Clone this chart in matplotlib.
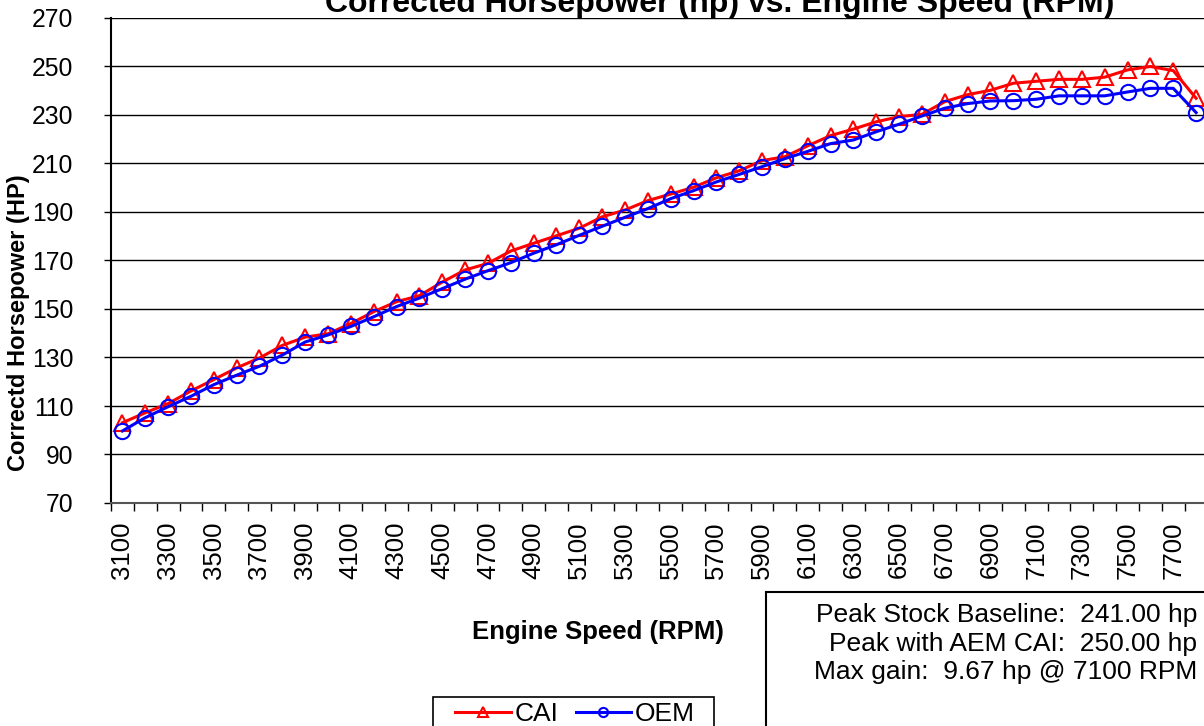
import numpy as np
import matplotlib.pyplot as plt
from matplotlib.patches import Rectangle

# Datos
rpm = list(range(3100, 7900, 100))
cai = [103.1, 107.2, 111.0, 116.2, 120.9, 125.7, 129.8, 135.0, 138.4, 139.8, 144.0,
       148.9, 153.0, 155.5, 161.1, 166.1, 168.8, 173.9, 177.1, 180.2, 183.3, 188.0,
       190.8, 194.7, 197.4, 200.2, 204.1, 207.0, 211.2, 212.8, 217.3, 221.5,
       224.2, 227.2, 229.3, 230.3, 235.5, 238.4, 240.2,
       243.1, 243.9, 244.7, 244.7, 245.6, 248.6, 250.0, 248.3, 236.9]
oem = [99.7, 105.2, 109.7, 114.0, 118.8, 122.7, 126.4, 131.0, 136.4, 139.3, 142.8,
       146.8, 151.0, 154.5, 158.4, 162.3, 165.8, 169.1, 173.0, 176.5, 180.4, 184.1,
       187.8, 191.4, 195.5, 198.8, 202.4, 205.5, 208.7, 212.0, 215.0, 218.2,
       219.7, 223.1, 226.2, 229.6, 232.8, 234.7, 235.8,
       235.9, 236.5, 237.9, 237.9, 237.9, 239.5, 241.0, 241.0, 231.0]
y_ticks = list(range(70, 271, 20))
info_lines = ['Peak Stock Baseline:  241.00 hp',
              'Peak with AEM CAI:  250.00 hp',
              'Max gain:  9.67 hp @ 7100 RPM']

plt.rcParams['font.family'] = ['Liberation Sans', 'DejaVu Sans']
FS = 18.5

W, H = 1204, 726
fig = plt.figure(figsize=(W / 100, H / 100), dpi=100)
# el eje se sale un poco por la derecha, como en el original
ax = fig.add_axes([111 / W, 1 - 503 / H, (1207.5 - 111) / W, (503 - 18) / H])

x = np.arange(len(rpm))
ax.plot(x, cai, '-', color='#ff0000', lw=2.2, marker='^', ms=11,
        mfc='none', mec='#ff0000', mew=1.5, label='CAI', zorder=3)
ax.plot(x, oem, '-', color='#0000ff', lw=2.2, marker='o', ms=11,
        mfc='none', mec='#0000ff', mew=1.5, label='OEM', zorder=4)

ax.set_xlim(-0.5, len(rpm) - 0.5)
ax.set_ylim(70, 270)
ax.set_yticks(y_ticks)
ax.yaxis.grid(True, color='black', lw=1.0)
ax.set_axisbelow(True)

# etiquetas cada dos categorias, marcas entre categorias
ax.set_xticks(x[::2])
ax.set_xticklabels([str(r) for r in rpm[::2]], rotation=90)
ax.set_xticks(np.arange(len(rpm) + 1) - 0.5, minor=True)
ax.tick_params(axis='x', which='major', length=0, pad=13, labelsize=FS)
ax.tick_params(axis='x', which='minor', length=6, width=1, color='black')
ax.tick_params(axis='y', length=5, width=1, labelsize=17.8, pad=22)

for s in ['top', 'right']:
    ax.spines[s].set_visible(False)
ax.spines['left'].set_linewidth(1.5)
ax.spines['bottom'].set_linewidth(1.5)
ax.spines['bottom'].set_color('#555555')

fig.text(720 / W, 1 - 12 / H, 'Corrected Horsepower (hp) vs. Engine Speed (RPM)',
         ha='center', va='baseline', fontsize=23, fontweight='bold')
fig.text(19 / W, 1 - 323 / H, 'Correctd Horsepower (HP)', rotation=90,
         ha='center', va='center', fontsize=17, fontweight='bold')
fig.text(598 / W, 1 - 632 / H, 'Engine Speed (RPM)',
         ha='center', va='center', fontsize=FS, fontweight='bold')

# cuadro de texto
fig.patches.append(Rectangle((766 / W, 1 - 780 / H), 0.5, (780 - 592) / H,
                             transform=fig.transFigure, facecolor='white',
                             edgecolor='black', lw=1.5))
for i, line in enumerate(info_lines):
    fig.text(1197 / W, 1 - (615 + 28.5 * i) / H, line, ha='right', va='center',
             fontsize=19)

# marco de la leyenda aparte, para fijar su ancho
fig.patches.append(Rectangle((433 / W, 1 - 760 / H), 281 / W, (760 - 697) / H,
                             transform=fig.transFigure, facecolor='white',
                             edgecolor='black', lw=1.2))
leg = fig.legend(loc='upper left', bbox_to_anchor=(450 / W, 1 - 697 / H),
                 ncol=2, fontsize=19, frameon=False, markerscale=0.6,
                 handlelength=2.1, handletextpad=0.15, columnspacing=0.65,
                 borderpad=0.2, borderaxespad=0)

fig.savefig('out.png', dpi=100)
